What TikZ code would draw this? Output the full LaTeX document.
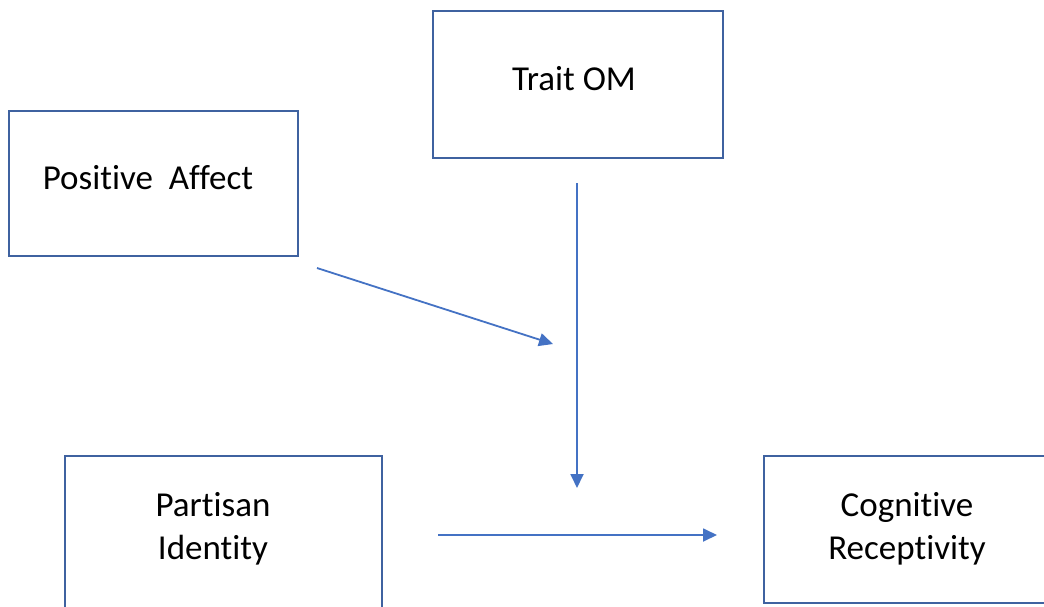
\documentclass[tikz,border=0pt]{standalone}
\usepackage{fontspec}
\setmainfont{Carlito}[Ligatures={NoCommon}]
\usetikzlibrary{arrows.meta}
\definecolor{boxblue}{HTML}{3F62A0}
\definecolor{arrblue}{HTML}{4472C4}
\begin{document}
\begin{tikzpicture}[x=1pt,y=-1pt,
  box/.style={draw=boxblue, line width=1.5pt, inner sep=0pt, outer sep=0pt, anchor=north west},
  lbl/.style={font=\fontsize{35}{43}\selectfont, align=center, inner sep=0pt, text=black},
  conn/.style={draw=arrblue, line width=1.8pt, -{Triangle[length=14pt,width=13pt]}}]
\useasboundingbox (0,0) rectangle (1044,606);
\clip (0,0) rectangle (1044,606);
\fill[white] (0,0) rectangle (1044,606);
% boxes
\node[box, minimum width=290pt, minimum height=147pt] (om) at (433,11) {};
\node[box, minimum width=289pt, minimum height=145pt] (pa) at (9,111) {};
\node[box, minimum width=317pt, minimum height=180pt] (pi) at (65,456) {};
\node[box, minimum width=300pt, minimum height=147pt] (cr) at (764,456) {};
% labels
\node[lbl] (omt) at (574,79) {Trait OM};
\node[lbl] (pat) at (148,178) {Positive\ \ Affect};
\node[lbl] (pit) at (213,529) {Partisan\\Identity};
\node[lbl] (crt) at (907,529) {Cognitive\\Receptivity};
% connector end points
\coordinate (v1) at (577,183);
\coordinate (v2) at (577,488);
\coordinate (d1) at (317,268);
\coordinate (d2) at (553,344);
\coordinate (h1) at (438,535);
\coordinate (h2) at (717,535);
\draw[conn] (v1) -- (v2);
\draw[conn] (d1) -- (d2);
\draw[conn] (h1) -- (h2);
\end{tikzpicture}
\end{document}
